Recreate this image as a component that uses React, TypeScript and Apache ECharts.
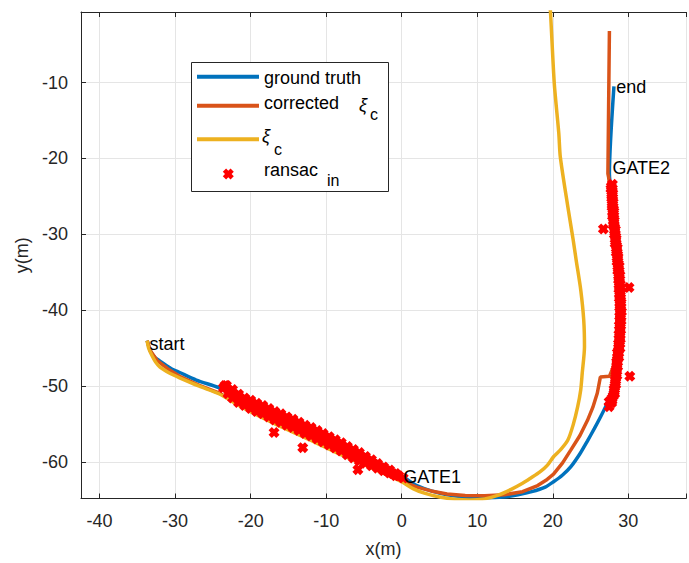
import React, { useEffect, useRef } from "react";
import * as echarts from "echarts";

// ---------- data ----------
const groundTruth: [number, number][] = [
  [-33.7, -44.0], [-33.3, -45.3], [-32.7, -46.2], [-31.7, -46.9], [-30.5, -47.7],
  [-29.4, -48.2], [-27.2, -49.2], [-24.2, -50.2], [-21.1, -51.6], [-16.7, -53.6],
  [-12.3, -55.6], [-7.9, -57.8], [-3.5, -60.1], [0.0, -61.8], [1.0, -62.5],
  [2.0, -63.1], [3.9, -63.8], [6.0, -64.3], [8.5, -64.6], [11.0, -64.7],
  [13.5, -64.6], [15.4, -64.3], [17.2, -63.9], [19.0, -63.3], [20.1, -62.6],
  [21.3, -61.7], [22.4, -60.6], [23.6, -58.9], [24.6, -57.2], [25.5, -55.6],
  [26.3, -54.1], [27.0, -52.7], [27.5, -51.4], [28.0, -49.5], [28.5, -46.5],
  [28.8, -42.5], [28.9, -38.5], [28.7, -34.0], [28.3, -29.5], [27.9, -25.5],
  [27.5, -22.0], [28.1, -10.5],
];

const corrected: [number, number][] = [
  [-33.7, -44.0], [-33.3, -45.3], [-32.4, -46.6], [-31.0, -47.7], [-29.4, -48.7],
  [-26.8, -49.9], [-24.2, -50.9], [-21.1, -52.5], [-16.7, -54.6], [-12.3, -56.6],
  [-7.9, -58.7], [-3.5, -60.8], [0.0, -62.5], [2.0, -63.3], [3.9, -63.8],
  [6.0, -64.2], [8.4, -64.4], [11.0, -64.45], [13.6, -64.3], [16.0, -63.9],
  [18.0, -63.1], [19.1, -62.4], [20.1, -61.6], [21.3, -60.1], [22.4, -58.4],
  [23.6, -56.5], [24.6, -54.5], [25.3, -52.8], [25.9, -50.9], [26.3, -48.8],
  [27.5, -48.7], [28.0, -47.5], [28.4, -44.5], [28.6, -39.0], [28.4, -33.0],
  [28.0, -27.5], [27.4, -22.5], [27.3, -22.0], [27.5, -3.2],
];

const xiC: [number, number][] = [
  [-33.7, -44.0], [-33.5, -45.0], [-33.1, -45.9], [-32.6, -46.8], [-32.0, -47.5],
  [-30.7, -48.3], [-29.4, -48.9], [-26.8, -50.0], [-24.2, -51.0], [-21.1, -52.8],
  [-16.7, -55.0], [-12.3, -57.0], [-7.9, -59.1], [-3.5, -61.0], [0.0, -62.6],
  [1.5, -63.5], [3.0, -64.1], [5.0, -64.6], [7.0, -64.9], [9.0, -65.0],
  [11.0, -64.85], [12.7, -64.4], [14.5, -63.6], [16.0, -62.8], [17.1, -62.1],
  [18.3, -61.3], [19.3, -60.4], [20.1, -59.3], [21.1, -58.3], [22.0, -57.1],
  [22.7, -55.1], [23.3, -52.7], [23.7, -50.5], [23.9, -48.3], [24.2, -44.8],
  [24.1, -41.3], [23.7, -37.3], [23.1, -33.4], [22.7, -30.7], [22.0, -26.4],
  [21.0, -19.8], [20.8, -16.7], [20.2, -10.1], [19.7, -0.7], [19.6, 0.5],
];

const ransacIn: [number, number][] = [
  // first straight (top row)
  [-23.6, -50.2], [-23.4, -49.9], [-23.2, -49.9], [-22.4, -50.45], [-21.6, -51.05], [-20.8, -51.55],
  [-20.0, -51.85], [-19.2, -52.25], [-18.4, -52.55], [-17.6, -52.95], [-16.8, -53.35],
  [-16.0, -53.65], [-15.2, -54.05], [-14.4, -54.35], [-13.6, -54.75], [-12.8, -55.15],
  [-12.0, -55.45], [-11.2, -55.85], [-10.4, -56.25], [-9.6, -56.65], [-8.8, -57.05],
  [-8.0, -57.45], [-7.2, -57.95], [-6.4, -58.35], [-5.6, -58.75], [-4.8, -59.25],
  [-4.0, -59.7], [-3.2, -60.2], [-2.4, -60.65], [-1.6, -61.05], [-0.8, -61.5],
  // first straight (middle row)
  [-22.8, -50.7], [-22.0, -51.3], [-21.2, -51.8], [-20.4, -52.2], [-19.6, -52.6],
  [-18.8, -53.0], [-18.0, -53.3], [-17.2, -53.7], [-16.4, -54.0], [-15.6, -54.4],
  [-14.8, -54.8], [-14.0, -55.1], [-13.2, -55.5], [-12.4, -55.8], [-11.6, -56.2],
  [-10.8, -56.6], [-10.0, -57.0], [-9.2, -57.4], [-8.4, -57.8], [-7.6, -58.2],
  [-6.8, -58.7], [-6.0, -59.1], [-5.2, -59.5], [-4.4, -59.9], [-3.6, -60.3],
  [-2.8, -60.7], [-2.0, -61.1], [-1.2, -61.5], [-0.4, -61.8], [0.2, -62.1],
  // first straight (bottom row)
  [-23.0, -51.0], [-22.4, -51.55], [-21.6, -52.15], [-20.8, -52.55], [-20.0, -52.95],
  [-19.2, -53.35], [-18.4, -53.65], [-17.6, -54.05], [-16.8, -54.45], [-16.0, -54.75],
  [-15.2, -55.15], [-14.4, -55.45], [-13.6, -55.85], [-12.8, -56.25], [-12.0, -56.55],
  [-11.2, -56.95], [-10.4, -57.35], [-9.6, -57.75], [-8.8, -58.15], [-8.0, -58.55],
  [-7.2, -59.05], [-6.4, -59.45], [-5.6, -59.85], [-4.8, -60.15], [-4.0, -60.5],
  [-3.2, -60.8], [-2.4, -61.15], [-1.6, -61.45], [-0.8, -61.8],
  // second straight (column a)
  [27.9, -23.4], [27.7, -24.0], [27.95, -24.6], [27.8, -25.2], [28.0, -25.8],
  [27.85, -26.4], [28.1, -27.0], [27.9, -27.6], [28.15, -28.2], [28.0, -28.8],
  [28.3, -29.4], [28.15, -30.0], [28.4, -30.6], [28.25, -31.2], [28.55, -31.8],
  [28.4, -32.4], [28.65, -33.0], [28.5, -33.6], [28.8, -34.2], [28.6, -34.8],
  [28.9, -35.4], [28.7, -36.0], [28.95, -36.6], [28.75, -37.2], [29.0, -37.8],
  [28.8, -38.4], [29.05, -39.0], [28.85, -39.6], [29.1, -40.2], [28.85, -40.8],
  [29.05, -41.4], [28.8, -42.0], [29.0, -42.6], [28.75, -43.2], [28.95, -43.8],
  [28.7, -44.4], [28.9, -45.0], [28.55, -45.6], [28.75, -46.2], [28.45, -46.8],
  [28.6, -47.4], [28.35, -48.0], [28.5, -48.6], [28.25, -49.2], [28.35, -49.8],
  [28.1, -50.4], [28.2, -51.0], [27.85, -51.6], [27.8, -52.2], [27.46, -52.04],
  [27.46, -52.7],
  // second straight (column b)
  [27.75, -23.7], [27.9, -24.3], [27.8, -24.9], [27.95, -25.5], [27.85, -26.1],
  [28.05, -26.7], [27.95, -27.3], [28.1, -27.9], [28.05, -28.5], [28.2, -29.1],
  [28.2, -29.7], [28.35, -30.3], [28.3, -30.9], [28.45, -31.5], [28.45, -32.1],
  [28.6, -32.7], [28.55, -33.3], [28.7, -33.9], [28.65, -34.5], [28.8, -35.1],
  [28.75, -35.7], [28.85, -36.3], [28.8, -36.9], [28.95, -37.5], [28.85, -38.1],
  [29.0, -38.7], [28.9, -39.3], [29.0, -39.9], [28.95, -40.5], [28.95, -41.1],
  [28.95, -41.7], [28.9, -42.3], [28.9, -42.9], [28.85, -43.5], [28.85, -44.1],
  [28.75, -44.7], [28.7, -45.3], [28.65, -45.9], [28.55, -46.5], [28.5, -47.1],
  [28.45, -47.7], [28.4, -48.3], [28.35, -48.9], [28.3, -49.5], [28.2, -50.1],
  [28.15, -50.7], [28.0, -51.3], [27.85, -51.9],
  // outliers
  [-16.9, -56.1], [-13.1, -58.1], [-5.8, -61.0], [26.7, -29.3], [30.1, -37.0], [30.2, -48.7],
];

const annotations = [
  { name: "start", x: -33.4, y: -44.4 },
  { name: "GATE1", x: 0.2, y: -62.0 },
  { name: "GATE2", x: 27.9, y: -21.3 },
  { name: "end", x: 28.4, y: -10.6 },
];

const X_MIN = -42.46;
const X_MAX = 37.64;
const Y_MIN = -64.8;
const Y_MAX = -0.7;

// ---------- styling ----------
const FONT = "'Liberation Sans', Arial, Helvetica, sans-serif";
const AXIS = "#262626";
const GRID = "#e5e5e5";
const C_BLUE = "#0072BD";
const C_ORANGE = "#D95319";
const C_YELLOW = "#EDB120";
const C_RED = "#FF0000";
const X_MARK = "path://M0,3L3,0L5,2L7,0L10,3L8,5L10,7L7,10L5,8L3,10L0,7L2,5Z";

const fmt = (v: number) =>
  Math.abs(v - Math.round(v / 10) * 10) < 1e-6 ? String(Math.round(v) === 0 ? 0 : Math.round(v)) : "";

function xMarkPoints(cx: number, cy: number, s: number): number[][] {
  const base = [[0, 3], [3, 0], [5, 2], [7, 0], [10, 3], [8, 5], [10, 7], [7, 10], [5, 8], [3, 10], [0, 7], [2, 5]];
  return base.map(([a, b]) => [cx - s / 2 + (a * s) / 10, cy - s / 2 + (b * s) / 10]);
}

export default function App() {
  const ref = useRef<HTMLDivElement>(null);
  useEffect(() => {
    if (!ref.current) return;
    const chart = echarts.init(ref.current, null, { renderer: "svg" });
    const textEl = (text: string, x: number, y: number, size = 18, italic = false) => ({
      type: "text",
      x,
      y,
      z: 101,
      style: {
        text,
        fill: "#000",
        font: `${italic ? "italic " : ""}${size}px ${FONT}`,
        textAlign: "left",
        textVerticalAlign: "middle",
        verticalAlign: "middle",
      },
    });
    const option: any = {
      animation: false,
      backgroundColor: "#ffffff",
      grid: { left: 81, top: 12, width: 608, height: 486.5, containLabel: false },
      xAxis: [
        {
          type: "value",
          min: X_MIN,
          max: X_MAX,
          splitNumber: 8,
          position: "bottom",
          axisLine: { show: true, onZero: false, lineStyle: { color: AXIS, width: 1 } },
          axisTick: { show: true, inside: true, length: 5, lineStyle: { color: AXIS } },
          axisLabel: { formatter: fmt, color: AXIS, fontSize: 18, fontFamily: FONT, margin: 13 },
          splitLine: { show: true, lineStyle: { color: GRID, width: 1 } },
          name: "x(m)",
          nameLocation: "middle",
          nameGap: 41,
          nameTextStyle: { color: AXIS, fontSize: 18, fontFamily: FONT },
        },
        {
          type: "value",
          min: X_MIN,
          max: X_MAX,
          splitNumber: 8,
          position: "top",
          axisLine: { show: true, onZero: false, lineStyle: { color: AXIS, width: 1 } },
          axisTick: { show: true, inside: true, length: 5, lineStyle: { color: AXIS } },
          axisLabel: { show: false },
          splitLine: { show: false },
        },
      ],
      yAxis: [
        {
          type: "value",
          min: Y_MIN,
          max: Y_MAX,
          splitNumber: 7,
          position: "left",
          axisLine: { show: true, onZero: false, lineStyle: { color: AXIS, width: 1 } },
          axisTick: { show: true, inside: true, length: 5, lineStyle: { color: AXIS } },
          axisLabel: { formatter: fmt, color: AXIS, fontSize: 18, fontFamily: FONT, margin: 13 },
          splitLine: { show: true, lineStyle: { color: GRID, width: 1 } },
          name: "y(m)",
          nameLocation: "middle",
          nameGap: 50,
          nameTextStyle: { color: AXIS, fontSize: 18, fontFamily: FONT },
        },
      ],
      series: [
        {
          name: "ground truth",
          type: "line",
          data: groundTruth,
          showSymbol: false,
          symbol: "none",
          lineStyle: { color: C_BLUE, width: 3.5 },
          smooth: 0.25,
          z: 2,
        },
        {
          name: "corrected",
          type: "line",
          data: corrected,
          showSymbol: false,
          symbol: "none",
          lineStyle: { color: C_ORANGE, width: 3.5 },
          smooth: false,
          z: 3,
        },
        {
          name: "xi_c",
          type: "line",
          data: xiC,
          showSymbol: false,
          symbol: "none",
          lineStyle: { color: C_YELLOW, width: 3.5 },
          smooth: 0.25,
          z: 4,
        },
        {
          name: "ransac in",
          type: "scatter",
          data: ransacIn,
          symbol: X_MARK,
          symbolSize: 11,
          itemStyle: { color: C_RED, opacity: 1 },
          z: 5,
        },
        {
          name: "annotations",
          type: "scatter",
          data: annotations.map((a) => ({ name: a.name, value: [a.x, a.y] })),
          symbolSize: 0,
          itemStyle: { opacity: 1 },
          z: 6,
          label: {
            show: true,
            formatter: "{b}",
            position: [0, 0],
            align: "left",
            verticalAlign: "middle",
            color: "#000",
            opacity: 1,
            fontSize: 18,
            fontFamily: FONT,
          },
        },
      ],
      graphic: {
        elements: [
          {
            type: "rect",
            z: 100,
            shape: { x: 191.5, y: 62.5, width: 197, height: 129 },
            style: { fill: "#ffffff", stroke: AXIS, lineWidth: 1 },
          },
          { type: "line", z: 101, shape: { x1: 197, y1: 76.7, x2: 259, y2: 76.7 }, style: { stroke: C_BLUE, lineWidth: 4 } },
          { type: "line", z: 101, shape: { x1: 197, y1: 105.7, x2: 259, y2: 105.7 }, style: { stroke: C_ORANGE, lineWidth: 4 } },
          { type: "line", z: 101, shape: { x1: 197, y1: 139.3, x2: 259, y2: 139.3 }, style: { stroke: C_YELLOW, lineWidth: 4 } },
          { type: "polygon", z: 101, shape: { points: xMarkPoints(228.3, 174, 11) }, style: { fill: C_RED } },
          textEl("ground truth", 264, 78),
          textEl("corrected", 264, 103),
          textEl("ξ", 359, 105, 18, true),
          textEl("c", 370, 114, 16),
          textEl("ξ", 262, 136, 18, true),
          textEl("c", 274, 149, 16),
          textEl("ransac", 264, 170),
          textEl("in", 327, 180, 16),
        ],
      },
    };
    chart.setOption(option);
    return () => chart.dispose();
  }, []);
  return (
    <div
      ref={ref}
      style={{ position: "fixed", left: 0, top: 0, width: 689, height: 563, background: "#fff" }}
    />
  );
}
